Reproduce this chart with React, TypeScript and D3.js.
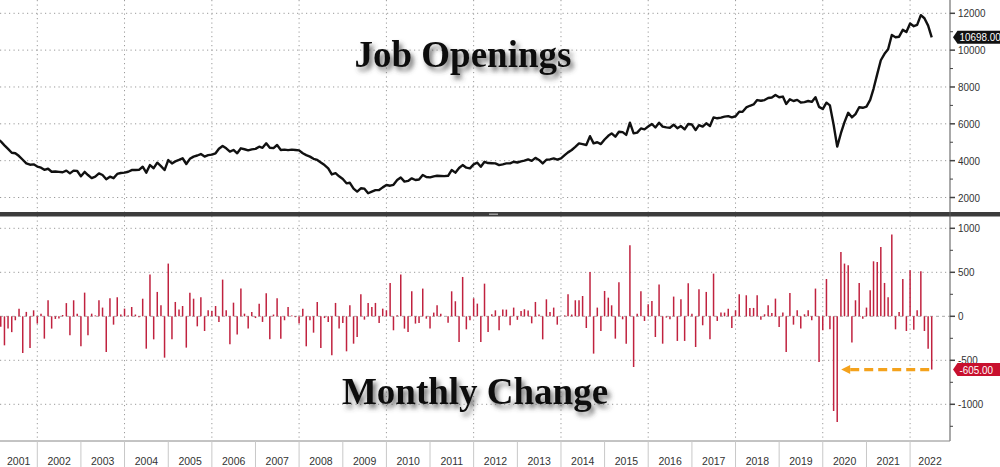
import { useEffect, useRef } from "react";
import * as d3 from "d3";

// Job openings level (thousands), monthly Jan 2001 .. Jun 2022
const jobOpenings: number[] = [
  // 2001
  5200, 5050, 4830, 4640, 4430, 4400, 4250, 4050, 3850, 3780, 3800, 3680,
  // 2002
  3620, 3500, 3560, 3400, 3410, 3390, 3370, 3460, 3310, 3460, 3440, 3150,
  // 2003
  3390, 3220, 3050, 3130, 3310, 3220, 2990, 3130, 3050, 3280, 3330, 3350,
  // 2004
  3400, 3490, 3490, 3500, 3670, 3350, 3760, 3590, 3890, 3700, 3490, 4030,
  // 2005
  3850, 3960, 4040, 4130, 3820, 4100, 4220, 4280, 4360, 4220, 4300, 4330,
  // 2006
  4400, 4650, 4800, 4670, 4490, 4580, 4400, 4670, 4620, 4560, 4610, 4640,
  // 2007
  4760, 4700, 4940, 4700, 4680, 4850, 4580, 4600, 4570, 4600, 4580, 4560,
  // 2008
  4400, 4300, 4220, 4100, 4040, 3900, 3760, 3580, 3250, 3320, 3150, 3000,
  // 2009
  2770, 2800, 2480, 2320, 2500, 2480, 2230, 2320, 2400, 2410, 2550, 2680,
  // 2010
  2640, 2690, 2950, 3090, 2860, 2900, 3040, 2950, 2980, 3220, 3110, 3090,
  // 2011
  3150, 3180, 3170, 3160, 3180, 3490, 3350, 3600, 3760, 3620, 3580, 3800,
  // 2012
  3890, 3670, 3940, 3870, 3860, 3850, 3760, 3800, 3850, 3850, 3940, 3900,
  // 2013
  3960, 4000, 4070, 3990, 4150, 4040, 3850, 4050, 4070, 4120, 4050, 4120,
  // 2014
  4300, 4450, 4580, 4750, 4940, 4900, 4850, 5330, 4940, 5000, 4900, 5150,
  // 2015
  5350, 5480, 5300, 5570, 5550, 5400, 6060, 5480, 5520, 5750, 5700, 5850,
  // 2016
  5990, 5800, 6060, 5850, 5810, 5790, 5950, 5760, 5880, 5700, 5990, 5960,
  // 2017
  5660, 5930, 5850, 6030, 5880, 6350, 6300, 6340, 6390, 6420, 6350, 6410,
  // 2018
  6660, 6650, 6890, 6980, 7050, 7290, 7250, 7290, 7400, 7430, 7560, 7440,
  // 2019
  7480, 7080, 7330, 7240, 7300, 7160, 7180, 7240, 7190, 7440, 6920, 6800,
  // 2020
  7150, 7000, 5950, 4760, 5490, 6090, 6600, 6350, 6530, 6900, 6870, 6930,
  // 2021
  7300, 7900, 8700, 9450, 9800, 10050, 10820, 10700, 10730, 11100, 10980, 11450,
  // 2022
  11300, 11370, 11900, 11730, 11330, 10698,
];

// Monthly change (thousands), same months
const monthlyChange: number[] = [
  // 2001
  -150, -120, -330, -140, -180, -45, 87, -417, 50, -360, 68, -83,
  // 2002
  30, -254, 182, -140, -30, -25, 15, 150, -216, 182, 30, -341,
  // 2003
  269, -216, 30, 10, 182, 99, -405, 205, -95, 216, 20, 87,
  // 2004
  10, 106, 20, -10, 200, -368, 474, -262, 277, 125, -470, 599,
  // 2005
  -262, 163, 76, 117, -356, 269, 200, -114, 216, -167, 68, 61,
  // 2006
  117, -64, 417, 68, -318, 155, -208, 315, 30, -140, 49, -20,
  // 2007
  144, -64, 262, -262, 20, 205, -254, -45, 106, 10, -10, -83,
  // 2008
  87, -341, -45, -186, 163, -360, -20, -64, -443, 152, -140, -76,
  // 2009
  -398, 125, -311, -235, 250, -38, 152, 106, 152, -76, 87, 68,
  // 2010
  379, -159, 11, 474, -140, -178, 284, -83, -76, 315, -27, -140,
  // 2011
  42, 125, 30, 0, -72, 284, 171, -292, 447, -148, -45, 205,
  // 2012
  144, -292, 371, -178, 23, 68, -159, 76, 76, -102, 99, -40,
  // 2013
  60, 80, 65, -80, 163, 20, -262, 193, 49, 99, -95, 0,
  // 2014
  10, 250, 20, 182, 182, 231, -133, 504, -424, 99, -167, 288,
  // 2015
  212, 125, -254, 387, -34, -311, 807, -576, 30, 284, -53, 136,
  // 2016
  174, -235, 360, -311, -15, -34, 224, -280, 193, -280, 375, 30,
  // 2017
  -349, 307, -102, 277, -262, 485, -53, 42, 42, 87, -133, 68,
  // 2018
  250, 0, 239, 95, 95, 239, -38, 23, 125, 38, 201, -121,
  // 2019
  42, -405, 265, -95, 68, -140, 23, 68, -45, 315, -519, -159,
  // 2020
  424, -148, -1076, -1201, 731, 599, 580, -299, 182, 379, -27, 99,
  // 2021
  296, 625, 618, 788, 379, 216, 929, -148, 49, 424, -167, 523,
  // 2022
  -152, 68, 512, -167, -368, -605,
];

const years = [
  2001, 2002, 2003, 2004, 2005, 2006, 2007, 2008, 2009, 2010, 2011, 2012,
  2013, 2014, 2015, 2016, 2017, 2018, 2019, 2020, 2021, 2022,
];
const levelTicks = [2000, 4000, 6000, 8000, 10000, 12000];
const levelMinorTicks = [3000, 5000, 7000, 9000, 11000];
const changeTicks = [-1000, -500, 0, 500, 1000];
const changeMinorTicks = [-1250, -750, -250, 250, 750];
const lastLevelLabel = "10698.00";
const lastChangeLabel = "-605.00";

const W = 1000;
const H = 467;
const PLOT_RIGHT = 950;
const PLOT_BOTTOM = 441;
const SEP_Y = 212;
const AXIS_FONT = "'Liberation Sans', Arial, sans-serif";
const TITLE_FONT = "'Liberation Serif', 'DejaVu Serif', serif";
const BAR_COLOR = "#c0223f";
const DOT = "1.2,3.3";
const AXIS_SQUEEZE = 0.86; // right-axis labels are a condensed face

export default function App() {
  const svgRef = useRef<SVGSVGElement>(null);

  useEffect(() => {
    if (!svgRef.current) return;
    const svg = d3.select(svgRef.current);
    svg.selectAll("*").remove();

    // points sit at month end
    const dates = jobOpenings.map((_, i) => new Date(2001, i + 1, 1));

    const x = d3
      .scaleTime()
      .domain([new Date(2001, 0, 1), new Date(2023, 0, 1)])
      .range([-6.3, 953.7]);
    const yTop = d3.scaleLinear().domain([2000, 12000]).range([197.5, 13.3]);
    const yBot = d3.scaleLinear().domain([-1000, 1000]).range([404.3, 228.3]);

    svg.append("rect").attr("width", W).attr("height", H).attr("fill", "#fff");

    const defs = svg.append("defs");
    defs
      .append("clipPath")
      .attr("id", "plot-clip")
      .append("rect")
      .attr("x", 0)
      .attr("y", 0)
      .attr("width", PLOT_RIGHT)
      .attr("height", PLOT_BOTTOM);
    const shadow = defs
      .append("filter")
      .attr("id", "title-shadow")
      .attr("x", "-10%")
      .attr("y", "-30%")
      .attr("width", "130%")
      .attr("height", "180%");
    shadow
      .append("feDropShadow")
      .attr("dx", 3)
      .attr("dy", 4)
      .attr("stdDeviation", 2.5)
      .attr("flood-color", "#444")
      .attr("flood-opacity", 0.75);

    // Grid
    const grid = svg.append("g").attr("clip-path", "url(#plot-clip)");
    grid
      .selectAll("line.hTop")
      .data(levelTicks)
      .join("line")
      .attr("x1", 0)
      .attr("x2", PLOT_RIGHT)
      .attr("y1", (d) => yTop(d))
      .attr("y2", (d) => yTop(d))
      .attr("stroke", "#9a9a9a")
      .attr("stroke-dasharray", DOT);
    grid
      .selectAll("line.hBot")
      .data(changeTicks)
      .join("line")
      .attr("x1", 0)
      .attr("x2", PLOT_RIGHT)
      .attr("y1", (d) => yBot(d))
      .attr("y2", (d) => yBot(d))
      .attr("stroke", (d) => (d === 0 ? "#a8a8a8" : "#9a9a9a"))
      .attr("stroke-dasharray", (d) => (d === 0 ? "3,3" : DOT));
    grid
      .selectAll("line.v")
      .data(years.filter((y) => y % 2 === 0))
      .join("line")
      .attr("x1", (d) => x(new Date(d, 0, 1)))
      .attr("x2", (d) => x(new Date(d, 0, 1)))
      .attr("y1", 0)
      .attr("y2", PLOT_BOTTOM)
      .attr("stroke", "#9a9a9a")
      .attr("stroke-dasharray", DOT);

    // Bars
    const plot = svg.append("g").attr("clip-path", "url(#plot-clip)");
    plot
      .selectAll("line.bar")
      .data(monthlyChange)
      .join("line")
      .attr("x1", (_, i) => x(dates[i]))
      .attr("x2", (_, i) => x(dates[i]))
      .attr("y1", yBot(0))
      .attr("y2", (d) => yBot(d))
      .attr("stroke", BAR_COLOR)
      .attr("stroke-width", 1.5);

    // Level line
    const line = d3
      .line<number>()
      .x((_, i) => x(dates[i]))
      .y((d) => yTop(d));
    plot
      .append("path")
      .datum(jobOpenings)
      .attr("d", line)
      .attr("fill", "none")
      .attr("stroke", "#111")
      .attr("stroke-width", 2.4)
      .attr("stroke-linejoin", "round");

    // Panel separator
    svg
      .append("rect")
      .attr("x", 0)
      .attr("y", SEP_Y)
      .attr("width", W)
      .attr("height", 4.5)
      .attr("fill", "#3c3c3c");
    svg
      .append("rect")
      .attr("x", 489)
      .attr("y", SEP_Y + 1.5)
      .attr("width", 9)
      .attr("height", 1.5)
      .attr("fill", "#9a9a9a");

    // Right axis
    svg
      .append("line")
      .attr("x1", PLOT_RIGHT)
      .attr("x2", PLOT_RIGHT)
      .attr("y1", 0)
      .attr("y2", PLOT_BOTTOM)
      .attr("stroke", "#555");

    const ticks = svg.append("g");
    const tickMarks = (vals: number[], scale: (v: number) => number, len: number, w: number) =>
      ticks
        .append("g")
        .selectAll("line")
        .data(vals)
        .join("line")
        .attr("x1", PLOT_RIGHT)
        .attr("x2", PLOT_RIGHT + len)
        .attr("y1", (d) => scale(d))
        .attr("y2", (d) => scale(d))
        .attr("stroke", "#444")
        .attr("stroke-width", w);
    tickMarks(levelTicks, yTop, 5, 1.5);
    tickMarks(levelMinorTicks, yTop, 3, 1);
    tickMarks(changeTicks, yBot, 5, 1.5);
    tickMarks(changeMinorTicks, yBot, 3, 1);

    const tickLabels = (vals: number[], scale: (v: number) => number) =>
      ticks
        .append("g")
        .selectAll("text")
        .data(vals)
        .join("text")
        .attr("transform", (d) => `translate(958,${scale(d)}) scale(${AXIS_SQUEEZE},1)`)
        .attr("dy", "0.36em")
        .attr("font-family", AXIS_FONT)
        .attr("font-size", 11.5)
        .attr("fill", "#333")
        .text((d) => `${d}`);
    tickLabels(levelTicks, yTop);
    tickLabels(changeTicks, yBot);

    // Bottom date axis
    svg
      .append("line")
      .attr("x1", 0)
      .attr("x2", PLOT_RIGHT)
      .attr("y1", PLOT_BOTTOM)
      .attr("y2", PLOT_BOTTOM)
      .attr("stroke", "#888");
    const xAxis = svg.append("g");
    xAxis
      .selectAll("line")
      .data(years.slice(1))
      .join("line")
      .attr("x1", (d) => x(new Date(d, 0, 1)))
      .attr("x2", (d) => x(new Date(d, 0, 1)))
      .attr("y1", PLOT_BOTTOM)
      .attr("y2", H)
      .attr("stroke", "#c8c8c8");
    xAxis
      .selectAll("text")
      .data(years)
      .join("text")
      .attr("x", (d) => {
        const a = Math.max(0, x(new Date(d, 0, 1)));
        const b = Math.min(PLOT_RIGHT, x(new Date(d + 1, 0, 1)));
        return (a + b) / 2;
      })
      .attr("y", 465)
      .attr("text-anchor", "middle")
      .attr("font-family", AXIS_FONT)
      .attr("font-size", 10.5)
      .attr("fill", "#333")
      .text((d) => `${d}`);

    // Titles
    const title = (label: string, cx: number, baseline: number) =>
      svg
        .append("text")
        .attr("x", cx)
        .attr("y", baseline)
        .attr("text-anchor", "middle")
        .attr("font-family", TITLE_FONT)
        .attr("font-weight", "bold")
        .attr("font-size", 37)
        .attr("fill", "#111")
        .attr("filter", "url(#title-shadow)")
        .text(label);
    title("Job Openings", 463, 67);
    title("Monthly Change", 475, 404);

    // Last value tags
    const last = jobOpenings.length - 1;
    const tag = (cy: number, fill: string, label: string) => {
      svg
        .append("path")
        .attr("d", `M953,${cy} L957.5,${cy - 6.5} L1000,${cy - 6.5} L1000,${cy + 6.5} L957.5,${cy + 6.5} Z`)
        .attr("fill", fill);
      svg
        .append("text")
        .attr("transform", `translate(959.5,${cy}) scale(${AXIS_SQUEEZE},1)`)
        .attr("dy", "0.36em")
        .attr("font-family", AXIS_FONT)
        .attr("font-size", 11.5)
        .attr("fill", "#fff")
        .text(label);
    };
    tag(yTop(jobOpenings[last]), "#111", lastLevelLabel);
    tag(yBot(monthlyChange[last]), "#c8102e", lastChangeLabel);

    // Orange arrow back to the April 2020 drop
    const ay = yBot(monthlyChange[last]);
    const tipX = x(dates[231]) + 4;
    const endX = x(dates[last]);
    svg
      .append("line")
      .attr("x1", tipX + 9)
      .attr("x2", endX)
      .attr("y1", ay)
      .attr("y2", ay)
      .attr("stroke", "#f4a21c")
      .attr("stroke-width", 3.2)
      .attr("stroke-dasharray", "9,5");
    svg
      .append("path")
      .attr("d", `M${tipX},${ay} L${tipX + 9},${ay - 4.5} L${tipX + 9},${ay + 4.5} Z`)
      .attr("fill", "#f4a21c");
  }, []);

  return (
    <svg
      ref={svgRef}
      width={W}
      height={H}
      style={{ position: "fixed", left: 0, top: 0, display: "block" }}
    />
  );
}
